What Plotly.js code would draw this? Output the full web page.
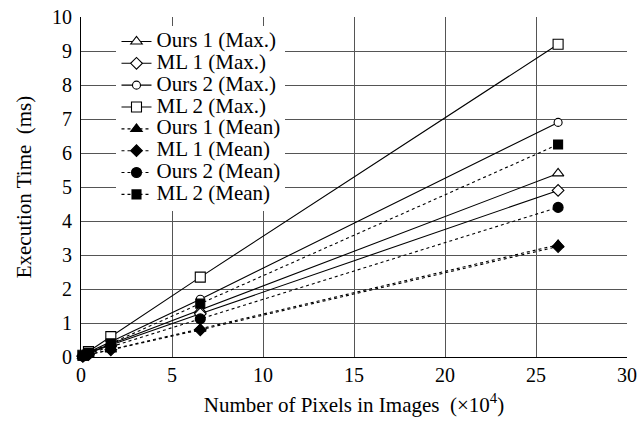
<!DOCTYPE html>
<html>
<head>
<meta charset="utf-8">
<script src="https://cdn.plot.ly/plotly-3.0.1.min.js"></script>
<style>html,body{margin:0;padding:0;background:#fff;}#chart{width:638px;height:421px;}</style>
</head>
<body>
<div id="chart"></div>
<script>
// x: number of pixels in images (x10^4)
const pixels = [0.1024, 0.4096, 1.6384, 6.5536, 26.2144];
const ours1Max  = [0.03, 0.12, 0.38, 1.38, 5.4];
const ml1Max    = [0.03, 0.11, 0.35, 1.27, 4.9];
const ours2Max  = [0.04, 0.14, 0.45, 1.70, 6.9];
const ml2Max    = [0.05, 0.16, 0.60, 2.35, 9.2];
const ours1Mean = [0.02, 0.07, 0.22, 0.83, 3.3];
const ml1Mean   = [0.02, 0.07, 0.21, 0.80, 3.25];
const ours2Mean = [0.03, 0.10, 0.30, 1.12, 4.4];
const ml2Mean   = [0.04, 0.13, 0.40, 1.57, 6.25];
const names = ["Ours 1 (Max.)","ML 1 (Max.)","Ours 2 (Max.)","ML 2 (Max.)",
               "Ours 1 (Mean)","ML 1 (Mean)","Ours 2 (Mean)","ML 2 (Mean)"];

const series = [ours1Max, ml1Max, ours2Max, ml2Max, ours1Mean, ml1Mean, ours2Mean, ml2Mean];
const symbols = ["triangle-up","diamond","circle","square",
                 "triangle-up","diamond","circle","square"];
const sizes = [10, 9, 8, 10, 10, 9, 10, 9];

const serif = "'Liberation Serif', 'Times New Roman', serif";
const traces = series.map((ys, i) => ({
  x: pixels, y: ys, type: "scatter", mode: "lines+markers",
  name: '<span style="font-size:21px">' + names[i] + '</span>',
  line: {color: "#000", width: 1.1, dash: i < 4 ? "solid" : "3px,3px"},
  marker: {symbol: symbols[i], size: sizes[i], color: i < 4 ? "#fff" : "#000",
           line: {color: "#000", width: 1.1}},
  cliponaxis: false
}));

const tickFont = {family: serif, color: "#000", size: 20};
const titleFont = {family: serif, color: "#000", size: 21};

Plotly.newPlot("chart", traces, {
  width: 638, height: 421,
  margin: {l: 81, r: 11, t: 17, b: 64},
  paper_bgcolor: "#fff", plot_bgcolor: "#fff",
  font: {family: serif, color: "#000", size: 17},
  showlegend: true,
  legend: {x: 0.065, y: 0.975, xanchor: "left", yanchor: "top", bgcolor: "#fff",
           font: {family: serif, size: 14.5, color: "#000"}, tracegroupgap: 0,
           itemwidth: 30},
  xaxis: {range: [0, 30], dtick: 5, tick0: 0, showgrid: true, gridcolor: "#555", gridwidth: 1,
          zeroline: false, showline: true, linecolor: "#000", linewidth: 1,
          ticks: "", tickfont: tickFont,
          title: {text: "Number of Pixels in Images  (×10<sup>4</sup>)", font: titleFont, standoff: 12}},
  yaxis: {range: [0, 10], dtick: 1, tick0: 0, showgrid: true, gridcolor: "#555", gridwidth: 1,
          zeroline: false, showline: true, linecolor: "#000", linewidth: 1,
          ticks: "", tickfont: tickFont, ticklabelstandoff: 4,
          title: {text: "Execution Time  (ms)", font: titleFont, standoff: 14}}
}, {displayModeBar: false});
</script>
</body>
</html>
